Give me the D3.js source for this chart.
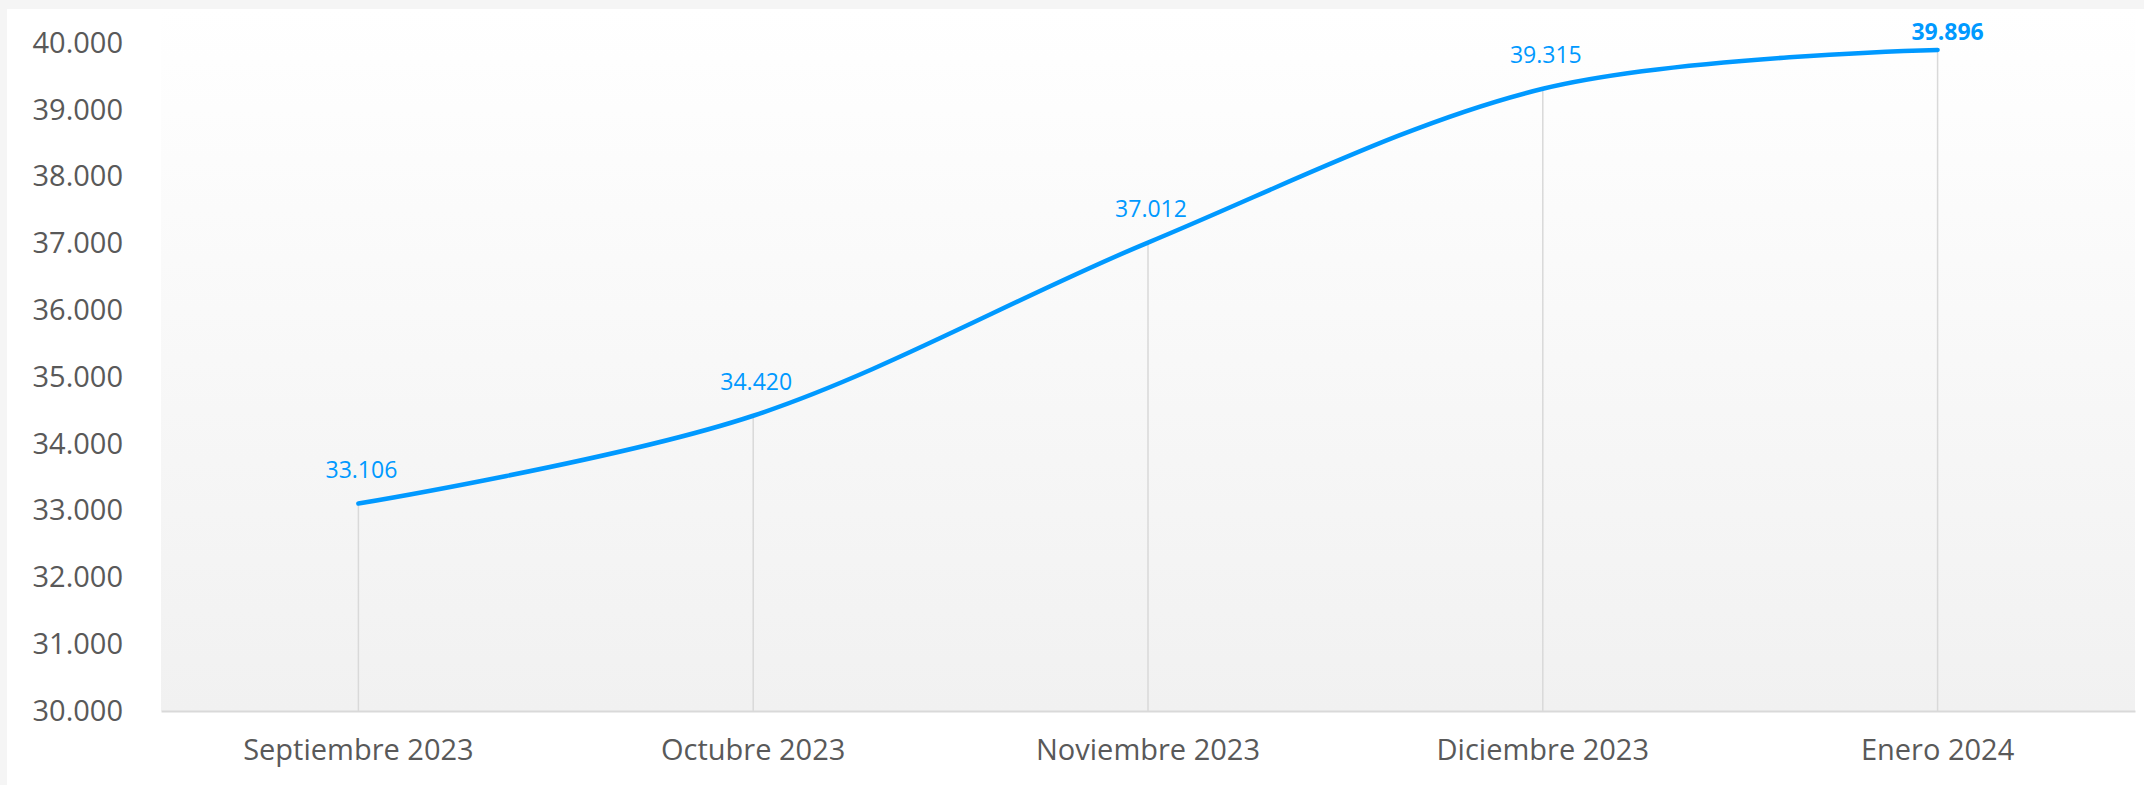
<!DOCTYPE html>
<html>
<head>
  <meta charset="utf-8">
  <title>Evolución mensual</title>
  <script src="https://cdn.jsdelivr.net/npm/d3@7"></script>
  <style>
    html, body { margin: 0; padding: 0; background: #ffffff; }
    svg { display: block; font-family: "Open Sans", "Noto Sans", sans-serif; }
  </style>
</head>
<body>
<div id="chart"></div>
<script>
  // chart data
  var months = ["Septiembre 2023", "Octubre 2023", "Noviembre 2023", "Diciembre 2023", "Enero 2024"];
  var values = [33106, 34420, 37012, 39315, 39896];
  var yTicks = [30000, 31000, 32000, 33000, 34000, 35000, 36000, 37000, 38000, 39000, 40000];

  var W = 2144, H = 785;
  var margin = {top: 43, right: 9, bottom: 74, left: 161};
  var plotTop = 9;

  var fmt = function(v) { return d3.format(",.0f")(v).replace(/,/g, "."); };

  var svg = d3.select("#chart").append("svg")
    .attr("width", W)
    .attr("height", H);

  // outer frame (light gray border on left/top)
  svg.append("rect").attr("width", W).attr("height", H).attr("fill", "#f5f5f5");
  svg.append("rect").attr("x", 7).attr("y", plotTop).attr("width", W - 7).attr("height", H - plotTop).attr("fill", "#ffffff");

  var defs = svg.append("defs");
  var grad = defs.append("linearGradient").attr("id", "bg").attr("x1", 0).attr("y1", 0).attr("x2", 0).attr("y2", 1);
  grad.append("stop").attr("offset", "0%").attr("stop-color", "#ffffff");
  grad.append("stop").attr("offset", "100%").attr("stop-color", "#f1f1f1");

  var x = d3.scaleBand()
    .domain(months)
    .range([margin.left, W - margin.right]);

  var y = d3.scaleLinear()
    .domain([30000, 40000])
    .range([H - margin.bottom, margin.top]);

  // plot area
  svg.append("rect")
    .attr("x", x.range()[0])
    .attr("y", plotTop)
    .attr("width", x.range()[1] - x.range()[0])
    .attr("height", y(30000) - plotTop)
    .attr("fill", "url(#bg)");

  var cx = function(d, i) { return x(months[i]) + x.bandwidth() / 2; };

  // drop lines
  svg.append("g").selectAll("line")
    .data(values)
    .join("line")
    .attr("x1", cx).attr("x2", cx)
    .attr("y1", function(d) { return y(d); })
    .attr("y2", y(30000))
    .attr("stroke", "#d9d9d9")
    .attr("stroke-width", 1.5);

  // x axis
  var xAxis = svg.append("g")
    .attr("transform", "translate(0," + y(30000) + ")")
    .call(d3.axisBottom(x).tickSize(0).tickPadding(28));
  xAxis.select(".domain").attr("stroke", "#d9d9d9").attr("stroke-width", 2);
  xAxis.selectAll("text")
    .attr("fill", "#595959")
    .style("font-size", "29px")
    .style("font-family", "'Open Sans', sans-serif");

  // y axis
  var yAxis = svg.append("g")
    .attr("transform", "translate(" + 123 + ",0)")
    .call(d3.axisLeft(y).tickValues(yTicks).tickFormat(fmt).tickSize(0).tickPadding(0));
  yAxis.select(".domain").remove();
  yAxis.selectAll("text")
    .attr("fill", "#595959")
    .style("font-size", "29px")
    .style("font-family", "'Open Sans', sans-serif");

  // the line
  svg.append("path")
    .datum(values)
    .attr("fill", "none")
    .attr("stroke", "#0099ff")
    .attr("stroke-width", 4.5)
    .attr("stroke-linecap", "round")
    .attr("d", d3.line()
      .x(cx)
      .y(function(d) { return y(d); })
      .curve(d3.curveCardinal.tension(0))
    );

  // data labels
  svg.append("g").selectAll("text")
    .data(values)
    .join("text")
    .attr("x", function(d, i) { return cx(d, i) + (i === values.length - 1 ? 10 : 3); })
    .attr("y", function(d) { return Math.max(y(d) - 34, 32); })
    .attr("dy", "0.35em")
    .attr("text-anchor", "middle")
    .attr("fill", "#0099ff")
    .style("font-size", "23px")
    .style("font-weight", function(d, i) { return i === values.length - 1 ? "bold" : "normal"; })
    .text(fmt);
</script>
</body>
</html>
